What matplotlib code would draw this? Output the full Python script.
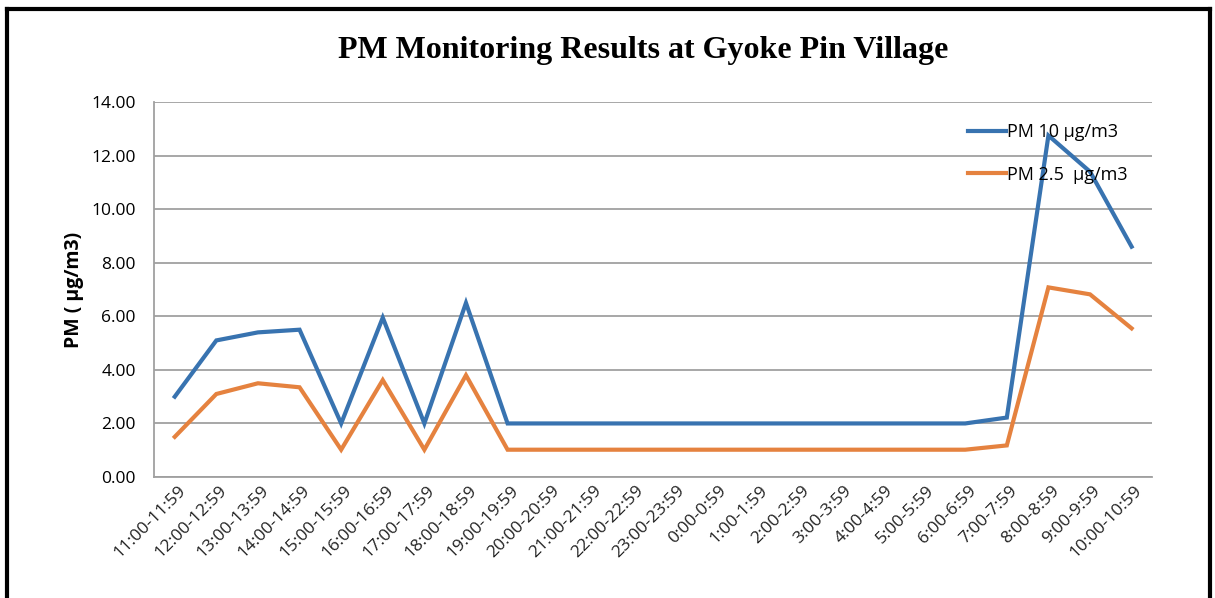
import matplotlib.pyplot as plt
from matplotlib.transforms import offset_copy

hours = ['11:00-11:59', '12:00-12:59', '13:00-13:59', '14:00-14:59', '15:00-15:59',
         '16:00-16:59', '17:00-17:59', '18:00-18:59', '19:00-19:59', '20:00-20:59',
         '21:00-21:59', '22:00-22:59', '23:00-23:59', '0:00-0:59', '1:00-1:59',
         '2:00-2:59', '3:00-3:59', '4:00-4:59', '5:00-5:59', '6:00-6:59',
         '7:00-7:59', '8:00-8:59', '9:00-9:59', '10:00-10:59']
pm10 = [3.0, 5.1, 5.4, 5.5, 2.0, 5.95, 2.0, 6.5, 2.0, 2.0,
        2.0, 2.0, 2.0, 2.0, 2.0, 2.0, 2.0, 2.0, 2.0, 2.0,
        2.22, 12.75, 11.4, 8.6]
pm25 = [1.5, 3.1, 3.5, 3.35, 1.02, 3.62, 1.02, 3.8, 1.02, 1.02,
        1.02, 1.02, 1.02, 1.02, 1.02, 1.02, 1.02, 1.02, 1.02, 1.02,
        1.18, 7.08, 6.82, 5.55]

fig = plt.figure(figsize=(12.15, 5.98), dpi=100)
ax = fig.add_axes([0.1267, 0.2023, 0.8218, 0.6271])

x = range(len(hours))
ax.plot(x, pm10, color='#3873b0', lw=3, label='PM 10 µg/m3', solid_joinstyle='miter')
ax.plot(x, pm25, color='#e5823f', lw=3, label='PM 2.5  µg/m3', solid_joinstyle='miter')

ax.set_xlim(-0.5, len(hours) - 0.5)
ax.set_ylim(0, 14)
ax.set_yticks(range(0, 15, 2))
ax.set_yticklabels([f'{v:.2f}' for v in range(0, 15, 2)], fontsize=12.5, family='Open Sans')
ax.set_xticks(list(x))
ax.set_xticklabels(hours, rotation=45, ha='right', va='center', rotation_mode='anchor',
                   fontsize=12.5, family='Open Sans', color='#222222')
ax.tick_params(axis='both', length=0)
ax.tick_params(axis='x', pad=8)
ax.tick_params(axis='y', pad=13)
# shift the rotated labels a little to the right, like Excel does
for lab in ax.get_xticklabels():
    lab.set_transform(offset_copy(lab.get_transform(), fig=fig, x=6, y=0, units='points'))

ax.grid(axis='y', color='#a0a0a0', lw=1.3)
ax.set_axisbelow(True)
for s in ['top', 'right']:
    ax.spines[s].set_visible(False)
ax.spines['left'].set_color('#a0a0a0')
ax.spines['bottom'].set_color('#a0a0a0')
ax.spines['left'].set_linewidth(1.3)
ax.spines['bottom'].set_linewidth(1.3)

ax.set_ylabel('PM ( µg/m3)', fontsize=14, fontweight='bold', family='Open Sans', labelpad=5)

fig.text(0.529, 0.915, 'PM Monitoring Results at Gyoke Pin Village', ha='center', va='center',
         fontsize=23, fontweight='bold', family='Liberation Serif')

leg = ax.legend(loc='upper left', bbox_to_anchor=(0.783, 0.821), bbox_transform=fig.transFigure,
                frameon=False, prop={'family': 'Open Sans', 'size': 13},
                handlelength=2.1, handletextpad=0.1, labelspacing=1.35)

# outer frame (left, top, right)
fig.add_artist(plt.Line2D([0.0055, 0.0055], [0, 0.985], color='black', lw=3, transform=fig.transFigure))
fig.add_artist(plt.Line2D([0.0055, 0.996], [0.985, 0.985], color='black', lw=3, transform=fig.transFigure))
fig.add_artist(plt.Line2D([0.996, 0.996], [0, 0.985], color='black', lw=3, transform=fig.transFigure))

fig.savefig('out.png', dpi=100)
